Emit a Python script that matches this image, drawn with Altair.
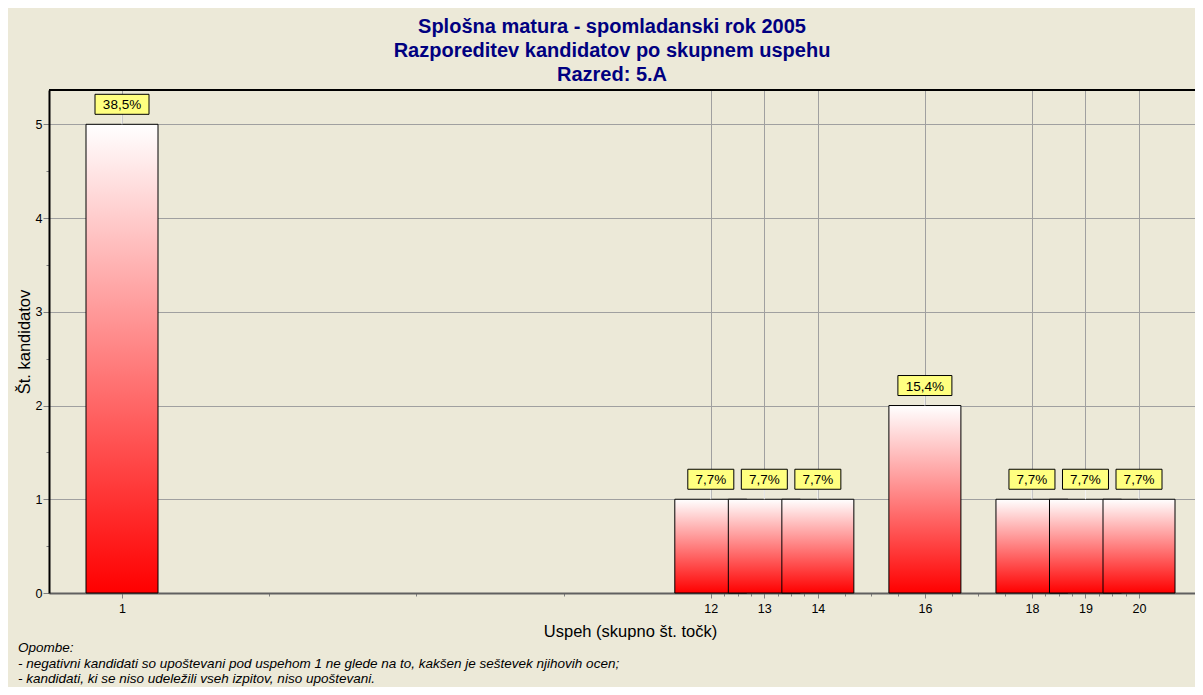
import altair as alt
import pandas as pd

# ---- data ----
uspeh = [1, 12, 13, 14, 16, 18, 19, 20]
kandidati = [5, 1, 1, 1, 2, 1, 1, 1]
delez = ["38,5%", "7,7%", "7,7%", "7,7%", "15,4%", "7,7%", "7,7%", "7,7%"]

x_labeled = [1, 12, 13, 14, 16, 18, 19, 20]
x_minor = [3.75, 6.5, 9.25, 12.25, 12.5, 12.75, 13.25, 13.5, 13.75, 14.5, 15, 15.5,
           16.5, 17, 17.5, 18.25, 18.5, 18.75, 19.25, 19.5, 19.75]
y_ticks = [0, 0.25, 0.5, 0.75, 1, 1.25, 1.5, 1.75, 2, 2.25, 2.5, 2.75, 3, 3.25, 3.5,
           3.75, 4, 4.25, 4.5, 4.75, 5, 5.25]

title_lines = ["Splošna matura - spomladanski rok 2005",
               "Razporeditev kandidatov po skupnem uspehu",
               "Razred: 5.A"]
notes = ["Opombe:",
         "- negativni kandidati so upoštevani pod uspehom 1 ne glede na to, kakšen je seštevek njihovih ocen;",
         "- kandidati, ki se niso udeležili vseh izpitov, niso upoštevani."]

df = pd.DataFrame({"uspeh": uspeh, "kandidati": kandidati, "delez": delez})

FONT = "Liberation Sans"
W, H = 1146, 503

xscale = alt.Scale(domain=[-0.364, 21.046], nice=False, zero=False, padding=0)
yscale = alt.Scale(domain=[0, 5.366], nice=False, zero=False, padding=0)

lab_test = "indexof(%s, datum.value) >= 0" % str(x_labeled)
int_test = "datum.value % 1 === 0"

xaxis = alt.Axis(
    values=x_labeled + x_minor,
    labelExpr="%s ? format(datum.value, 'd') : ''" % lab_test,
    labelFont=FONT, labelFontSize=12.5, labelColor="black", labelPadding=4,
    tickSize={"condition": {"test": lab_test, "value": 5}, "value": 3},
    tickColor="#808080",
    domainColor="#606060", domainWidth=2,
    grid=True, gridColor="#a0a0a0", gridWidth=1,
    gridOpacity={"condition": {"test": lab_test, "value": 1}, "value": 0},
    title="Uspeh (skupno št. točk)", titleFont=FONT, titleFontSize=16.5,
    titleFontWeight="normal", titleColor="black",
    titleX=581, titleY=43, titleAlign="center", titleBaseline="alphabetic",
)
yaxis = alt.Axis(
    values=y_ticks,
    labelExpr="%s ? format(datum.value, 'd') : ''" % int_test,
    labelFont=FONT, labelFontSize=12.5, labelColor="black", labelPadding=1,
    tickSize={"condition": {"test": int_test, "value": 6}, "value": 3},
    tickColor="#808080",
    domainColor="black", domainWidth=2,
    grid=True, gridColor="#a0a0a0", gridWidth=1,
    gridOpacity={"condition": {"test": int_test + " && datum.value > 0", "value": 1}, "value": 0},
    title="Št. kandidatov", titleFont=FONT, titleFontSize=16.5,
    titleFontWeight="normal", titleColor="black",
    titleX=-20, titleY=251.5, titleAngle=-90, titleAlign="center", titleBaseline="alphabetic",
)

base = alt.Chart(df)

grad = alt.LinearGradient(
    gradient="linear",
    stops=[alt.GradientStop(offset=0, color="#ffffff"),
           alt.GradientStop(offset=1, color="#ff0000")],
    x1=0, x2=0, y1=0, y2=1,
)

bars = base.mark_bar(width=72, fill=grad, stroke="black", strokeWidth=1).encode(
    x=alt.X("uspeh:Q", scale=xscale, axis=xaxis),
    y=alt.Y("kandidati:Q", scale=yscale, axis=yaxis),
)

leader = base.mark_rule(color="#f4f4f4", strokeWidth=1, y2Offset=-10).encode(
    x="uspeh:Q", y="kandidati:Q", y2="kandidati:Q"
)

box_wide = base.transform_filter("length(datum.delez) > 4").mark_rect(
    fill="#ffff80", stroke="black", strokeWidth=1,
    xOffset=-27, x2Offset=27, yOffset=-10, y2Offset=-30,
).encode(x="uspeh:Q", x2="uspeh:Q", y="kandidati:Q", y2="kandidati:Q")

box_narrow = base.transform_filter("length(datum.delez) <= 4").mark_rect(
    fill="#ffff80", stroke="black", strokeWidth=1,
    xOffset=-23, x2Offset=23, yOffset=-10, y2Offset=-30,
).encode(x="uspeh:Q", x2="uspeh:Q", y="kandidati:Q", y2="kandidati:Q")

box_text = base.mark_text(
    font=FONT, fontSize=13.5, color="black", baseline="alphabetic", align="center", yOffset=-15
).encode(x="uspeh:Q", y="kandidati:Q", text="delez:N")

one = alt.Data(values=[{"k": 1}])

top_border = alt.Chart(one).mark_rule(color="black", strokeWidth=2).encode(
    x=alt.value(0), x2=alt.value(W), y=alt.value(0)
)

title_text = alt.Chart(one).mark_text(
    text=title_lines, font=FONT, fontSize=20, fontWeight="bold", color="#000080",
    align="center", baseline="alphabetic", lineHeight=24,
).encode(x=alt.value(563), y=alt.value(-57))

notes_text = alt.Chart(one).mark_text(
    text=notes, font=FONT, fontSize=13.5, fontStyle="italic", color="black",
    align="left", baseline="alphabetic", lineHeight=15.5,
).encode(x=alt.value(-31), y=alt.value(562))

chart = alt.layer(
    bars, leader, box_wide, box_narrow, box_text, top_border, title_text, notes_text
).properties(
    width=W, height=H,
    autosize=alt.AutoSizeParams(type="none"),
    padding={"left": 41, "top": 82, "right": 0, "bottom": 94},
    background="#ECE9D8",
).configure_view(strokeWidth=0)

chart.save("out.html", embed_options={"renderer": "svg", "actions": False})
